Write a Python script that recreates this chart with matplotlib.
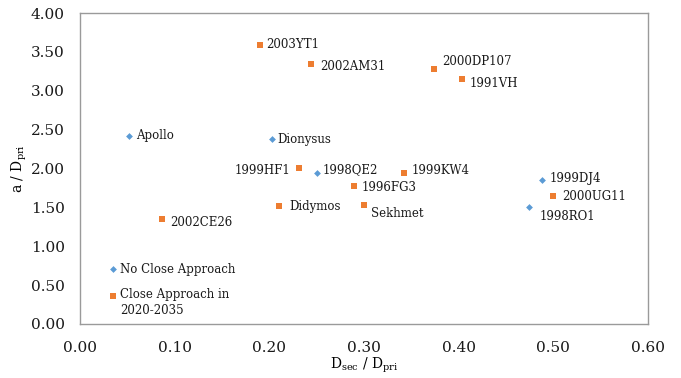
import matplotlib
matplotlib.use('Agg')
from matplotlib import pyplot as plt

# binary asteroids, no close approach (blue diamonds)
blue_names = ['Apollo', 'Dionysus', '1998QE2', '1999DJ4', '1998RO1']
blue_x = [0.052, 0.2025, 0.250, 0.488, 0.4746]
blue_y = [2.42, 2.38, 1.94, 1.85, 1.50]

# close approach in 2020-2035 (orange squares)
orange_names = ['2003YT1', '2002AM31', '2000DP107', '1991VH', '1999HF1',
                '1999KW4', '1996FG3', 'Didymos', 'Sekhmet', '2000UG11', '2002CE26']
orange_x = [0.1905, 0.244, 0.3743, 0.4032, 0.231, 0.3422, 0.2897, 0.2105, 0.300, 0.4996, 0.0869]
orange_y = [3.585, 3.344, 3.28, 3.147, 2.003, 1.938, 1.775, 1.517, 1.53, 1.646, 1.35]

# legend-like markers placed inside the plot
legend_x = [0.0349, 0.0349]
legend_y = [0.71, 0.355]
legend_labels = ['No Close Approach', 'Close Approach in\n2020-2035']

x_ticks = [0.0, 0.1, 0.2, 0.3, 0.4, 0.5, 0.6]
y_ticks = [0.0, 0.5, 1.0, 1.5, 2.0, 2.5, 3.0, 3.5, 4.0]

# label offsets in pixels (dx, dy, ha)
offsets = {
    'Apollo': (7, 0, 'left'), 'Dionysus': (6, -1, 'left'), '1998QE2': (6, 4, 'left'),
    '1999DJ4': (8, 2, 'left'), '1998RO1': (10, -9, 'left'),
    '2003YT1': (6, 1, 'left'), '2002AM31': (9, -2, 'left'), '2000DP107': (8, 7, 'left'),
    '1991VH': (8, -4, 'left'), '1999HF1': (-8, -2, 'right'), '1999KW4': (8, 3, 'left'),
    '1996FG3': (7, -2, 'left'), 'Didymos': (10, 0, 'left'), 'Sekhmet': (7, -8, 'left'),
    '2000UG11': (9, 0, 'left'), '2002CE26': (8, -3, 'left'),
}

BLUE = '#5b9bd5'
ORANGE = '#ed7d31'

plt.rcParams['font.family'] = 'DejaVu Serif'
plt.rcParams['mathtext.fontset'] = 'dejavuserif'

fig, ax = plt.subplots(figsize=(6.81, 3.78), dpi=100)
fig.subplots_adjust(left=0.1175, right=0.9515, top=0.9656, bottom=0.1429)

ax.scatter(blue_x, blue_y, marker='D', s=12, color=BLUE, linewidths=0, zorder=3)
ax.scatter(orange_x, orange_y, marker='s', s=22, color=ORANGE, linewidths=0, zorder=3)
ax.scatter(legend_x[:1], legend_y[:1], marker='D', s=12, color=BLUE, linewidths=0, zorder=3)
ax.scatter(legend_x[1:], legend_y[1:], marker='s', s=22, color=ORANGE, linewidths=0, zorder=3)

for names, xs, ys in [(blue_names, blue_x, blue_y), (orange_names, orange_x, orange_y)]:
    for n, x, y in zip(names, xs, ys):
        dx, dy, ha = offsets[n]
        ax.annotate(n, (x, y), xytext=(dx, dy), textcoords='offset pixels',
                    ha=ha, va='center', fontsize=8.5, color='#1a1a1a')

ax.annotate(legend_labels[0], (legend_x[0], legend_y[0]), xytext=(7, -1),
            textcoords='offset pixels', ha='left', va='center', fontsize=8.5, color='#1a1a1a')
ax.annotate(legend_labels[1], (legend_x[1], legend_y[1]), xytext=(7, 8),
            textcoords='offset pixels', ha='left', va='top', fontsize=8.5, color='#1a1a1a',
            linespacing=1.25)

ax.set_xlim(0, 0.6)
ax.set_ylim(0, 4)
ax.set_xticks(x_ticks)
ax.set_yticks(y_ticks)
ax.set_xticklabels(['%.2f' % v for v in x_ticks])
ax.set_yticklabels(['%.2f' % v for v in y_ticks])
ax.tick_params(length=0, labelsize=11, colors='#1a1a1a')
ax.tick_params(axis='x', pad=12)
ax.tick_params(axis='y', pad=11)

for s in ax.spines.values():
    s.set_color('#9a9a9a')
    s.set_linewidth(1.0)

ax.set_xlabel(r'D$_{\mathrm{sec}}$ / D$_{\mathrm{pri}}$', fontsize=10, labelpad=1)
ax.set_ylabel(r'a / D$_{\mathrm{pri}}$', fontsize=10, labelpad=1)

fig.savefig('out.png', dpi=100)
